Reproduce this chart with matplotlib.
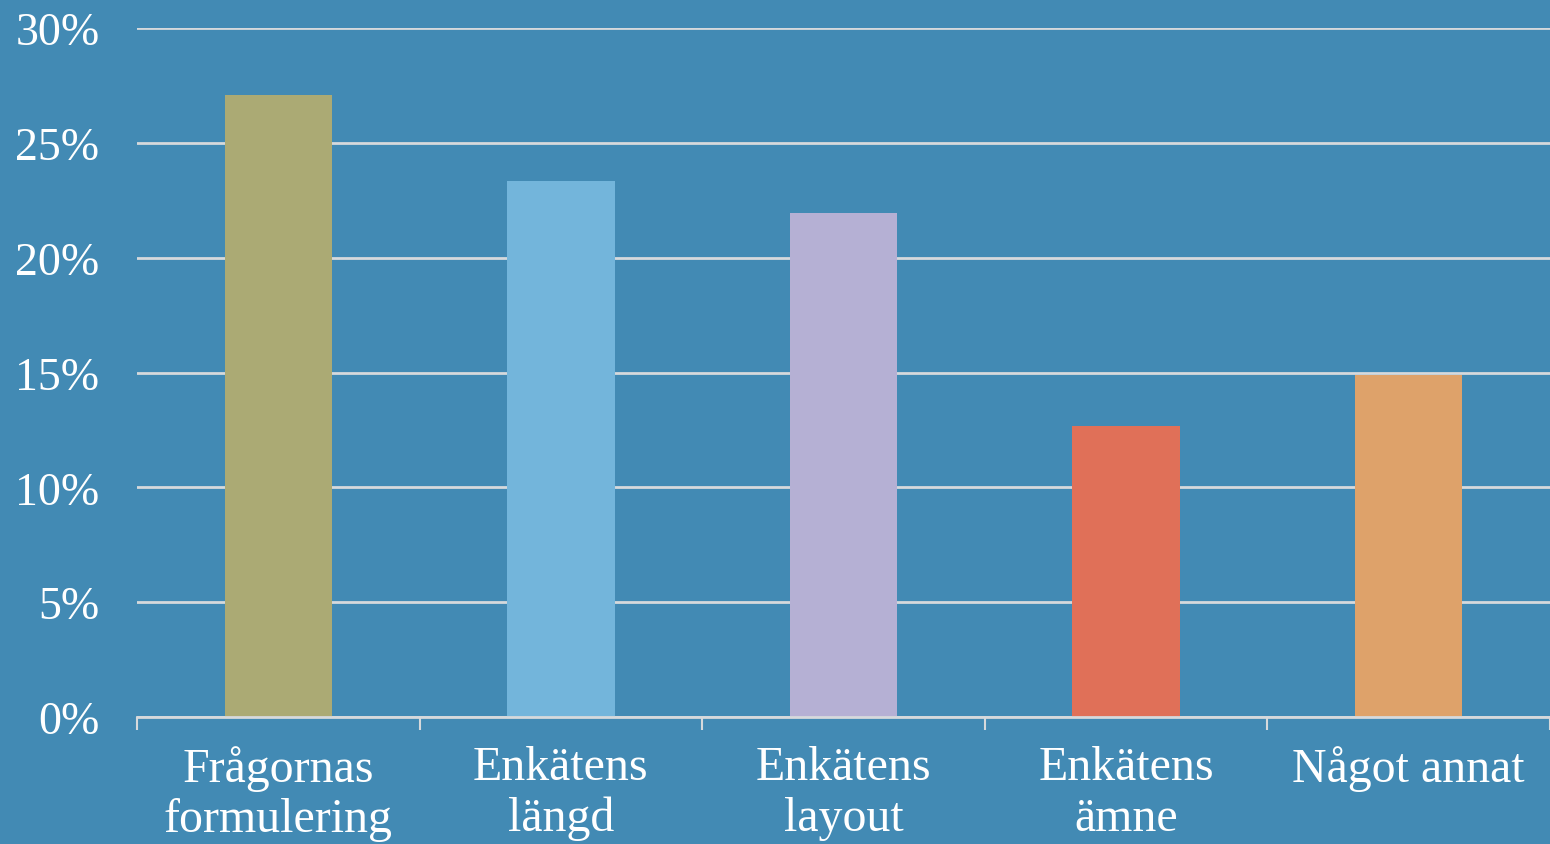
import numpy as np
import matplotlib.pyplot as plt
from matplotlib.ticker import FuncFormatter, FixedLocator

categories = ["Frågornas\nformulering", "Enkätens\nlängd", "Enkätens\nlayout",
              "Enkätens\nämne", "Något annat"]
values = [27.1, 23.35, 21.95, 12.65, 14.9]
bar_colors = ["#ABAA74", "#73B5DB", "#B5B0D4", "#E07058", "#DEA26A"]
y_ticks = [0, 5, 10, 15, 20, 25, 30]

BG = "#428AB4"
GRID = "#D6D9DC"

plt.rcParams["font.family"] = ["Liberation Serif", "DejaVu Serif"]

fig = plt.figure(figsize=(15.5, 8.45), dpi=100, facecolor=BG)
ax = fig.add_axes([137 / 1550, 1 - 718 / 845, 1 - 137 / 1550, (718 - 29) / 845])
ax.set_facecolor(BG)

x = np.arange(len(categories))
ax.bar(x, values, width=0.38, color=bar_colors, zorder=3)

ax.set_xlim(-0.5, len(categories) - 0.5)
ax.set_ylim(0, 30)
ax.set_yticks(y_ticks)
ax.yaxis.set_major_formatter(FuncFormatter(lambda v, _: f"{v:.0f}%"))
ax.grid(axis="y", color=GRID, linewidth=2, zorder=0)
ax.set_axisbelow(True)

ax.set_xticks(x)
ax.set_xticklabels(categories, linespacing=1.2)
ax.xaxis.set_minor_locator(FixedLocator(np.arange(-0.5, len(categories), 1.0)))

ax.tick_params(axis="x", which="major", length=0, pad=20, labelsize=34.5, labelcolor="white")
ax.tick_params(axis="x", which="minor", length=9, width=1.5, color=GRID, direction="out")
ax.tick_params(axis="y", length=0, pad=27, labelsize=33, labelcolor="white")

for side in ["top", "right", "left"]:
    ax.spines[side].set_visible(False)
ax.spines["bottom"].set_color(GRID)
ax.spines["bottom"].set_linewidth(2)
ax.spines["bottom"].set_zorder(4)

fig.savefig("out.png", facecolor=BG)
